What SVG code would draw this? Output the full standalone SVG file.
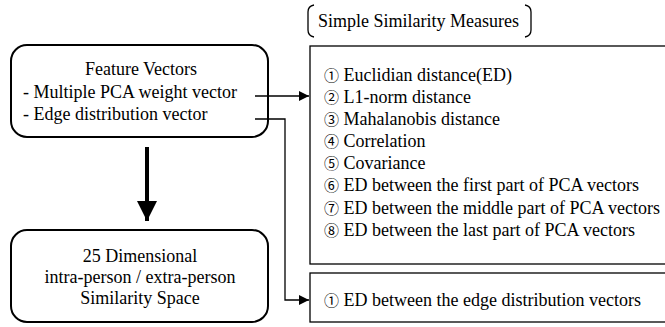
<svg xmlns="http://www.w3.org/2000/svg" width="665" height="327" viewBox="0 0 665 327">
<defs>
<style>
text{font-family:'Liberation Serif','Times New Roman','DejaVu Serif',serif;font-size:18px;fill:#000}
.n{font-family:'Noto Sans CJK KR','Noto Sans CJK JP','DejaVu Sans',sans-serif;font-size:15px}
.box{fill:#fff;stroke:#000;stroke-width:2}
.ln{fill:none;stroke:#000;stroke-width:1.3}
.mid{text-anchor:middle}
</style>
<marker id="ah" viewBox="0 0 10 10" refX="10" refY="5" markerWidth="10" markerHeight="10" markerUnits="userSpaceOnUse" orient="auto"><path d="M0,0L10,5L0,10z" fill="#000"/></marker>
<marker id="bh" viewBox="0 0 20 20" refX="20" refY="10" markerWidth="20" markerHeight="20" markerUnits="userSpaceOnUse" orient="auto"><path d="M0,0L20,10L0,20z" fill="#000"/></marker>
</defs>
<rect width="665" height="327" fill="#fff"/>
<g id="feature">
<rect class="box" x="11" y="45" width="257" height="92" rx="16"/>
<text class="mid" x="141" y="75">Feature Vectors</text>
<text x="23" y="98">- Multiple PCA weight vector</text>
<text x="23" y="120">- Edge distribution vector</text>
</g>
<g id="space">
<rect class="box" x="11" y="230" width="257" height="92" rx="16"/>
<text class="mid" x="140" y="262">25 Dimensional</text>
<text class="mid" x="140" y="283">intra-person / extra-person</text>
<text class="mid" x="140" y="304">Similarity Space</text>
</g>
<g id="title">
<path class="ln" d="M314,5 Q308,6 308,12 L308,30 Q308,36 314,37"/>
<path class="ln" d="M525,5 Q531,6 531,12 L531,30 Q531,36 525,37"/>
<text x="318" y="27">Simple Similarity Measures</text>
</g>
<g id="measures">
<rect class="ln" x="310" y="46" width="370" height="218"/>
<text x="324" y="81"><tspan class="n">①</tspan> Euclidian distance(ED)</text>
<text x="324" y="103"><tspan class="n">②</tspan> L1-norm distance</text>
<text x="324" y="125"><tspan class="n">③</tspan> Mahalanobis distance</text>
<text x="324" y="147"><tspan class="n">④</tspan> Correlation</text>
<text x="324" y="169"><tspan class="n">⑤</tspan> Covariance</text>
<text x="324" y="191"><tspan class="n">⑥</tspan> ED between the first part of PCA vectors</text>
<text x="324" y="214"><tspan class="n">⑦</tspan> ED between the middle part of PCA vectors</text>
<text x="324" y="236"><tspan class="n">⑧</tspan> ED between the last part of PCA vectors</text>
</g>
<g id="edge">
<rect class="ln" x="310" y="273" width="370" height="49"/>
<text x="324" y="306"><tspan class="n">①</tspan> ED between the edge distribution vectors</text>
</g>
<g id="connectors">
<line class="ln" x1="255" y1="96" x2="309" y2="96" marker-end="url(#ah)"/>
<polyline class="ln" points="255,119 285,119 285,300 309,300" marker-end="url(#ah)"/>
<line x1="147" y1="147" x2="147" y2="221" stroke="#000" stroke-width="4" marker-end="url(#bh)"/>
</g>
</svg>
